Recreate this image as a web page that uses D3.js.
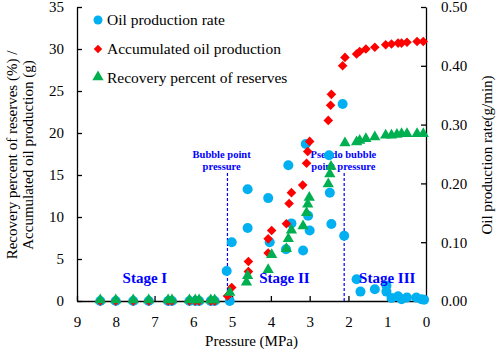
<!DOCTYPE html>
<html>
<head>
<meta charset="utf-8">
<script src="https://cdn.jsdelivr.net/npm/d3@7.9.0/dist/d3.min.js"></script>
<style>
  body { margin: 0; background: #fff; }
</style>
</head>
<body>
<svg id="chart" width="498" height="353"></svg>
<script>
// pressures (MPa) and values
const stageIPressure = [8.4, 8.0, 7.55, 7.15, 6.65, 6.55, 6.1, 5.95, 5.85, 5.55, 5.45];

const ratePressure = [...stageIPressure, 5.06, 5.14, 5.01, 4.60, 4.60, 4.07, 4.03, 3.61, 3.55, 3.47,
  3.17, 3.10, 3.04, 3.00, 2.50, 2.48, 2.44, 2.15, 2.11, 1.79, 1.69, 1.32, 1.02, 1.02,
  0.89, 0.72, 0.63, 0.49, 0.25, 0.12, 0.05];
const rateValue = [...stageIPressure.map(() => 0), 0, 0.051, 0.10, 0.19, 0.124, 0.175, 0.10, 0.088, 0.231, 0.132,
  0.086, 0.267, 0.145, 0.12, 0.248, 0.184, 0.131, 0.335, 0.111, 0.037, 0.016, 0.020, 0.026, 0.016,
  0.005, 0.008, 0.003, 0.006, 0.006, 0.003, 0.002];

const accPressure = [...stageIPressure, 5.12, 5.01, 4.58, 4.58, 4.07, 4.07, 3.98, 3.60, 3.53, 3.47,
  3.18, 3.08, 3.05, 3.00, 2.52, 2.46, 2.44, 2.15, 2.09, 1.79, 1.71, 1.55, 1.32, 1.04,
  0.89, 0.72, 0.63, 0.49, 0.23, 0.07];
const accValue = [...stageIPressure.map(() => 0), 0.6, 1.6, 3.5, 4.7, 5.7, 7.4, 8.4, 9.2, 11.6, 12.9,
  13.8, 16.4, 17.8, 19.0, 21.5, 23.3, 24.6, 28.0, 29.0, 29.4, 29.7, 30.0, 30.2, 30.5,
  30.6, 30.7, 30.7, 30.8, 30.9, 30.9];

const recPressure = [...stageIPressure, 5.06, 4.63, 4.60, 4.07, 3.98, 3.60, 3.55, 3.47, 3.17, 3.08,
  3.05, 3.01, 2.52, 2.48, 2.45, 2.09, 1.79, 1.71, 1.55, 1.32, 1.04, 0.89, 0.75, 0.63,
  0.49, 0.23, 0.07];
const recValue = [...stageIPressure.map(() => 0), 0.9, 2.1, 2.9, 3.6, 5.4, 6.1, 7.3, 8.3, 8.8, 10.4,
  11.4, 12.2, 13.8, 15.0, 15.9, 18.7, 18.8, 19.0, 19.2, 19.4, 19.6, 19.6, 19.7, 19.8,
  19.8, 19.8, 19.8];

const xTicks = [9, 8, 7, 6, 5, 4, 3, 2, 1, 0];
const leftTicks = [0, 5, 10, 15, 20, 25, 30, 35];
const rightTicks = [0, 0.1, 0.2, 0.3, 0.4, 0.5];
const guideLines = [
  { p: 5.12, label: ["Bubble point", "pressure"], lx: 5.27 },
  { p: 2.11, label: ["Pseudo bubble", "point pressure"], lx: 2.13 }
];
const stages = [
  { name: "Stage I", p: 7.25 },
  { name: "Stage II", p: 3.65 },
  { name: "Stage III", p: 1.0 }
];
const legendNames = ["Oil production rate", "Accumulated oil production", "Recovery percent of reserves"];

const blue = "#00B0F0", red = "#FF0000", green = "#00B050", labelBlue = "#0000FF";
const serif = "'Liberation Serif', 'DejaVu Serif', 'Times New Roman', serif";

const svg = d3.select("#chart");
const plotLeft = 77, plotRight = 426, plotTop = 7, plotBottom = 301;

const x = d3.scaleLinear().domain([9, 0]).range([plotLeft, plotRight]);
const yL = d3.scaleLinear().domain([0, 35]).range([plotBottom, plotTop]);
const yR = d3.scaleLinear().domain([0, 0.5]).range([plotBottom, plotTop]);

// axes
const xAxis = svg.append("g")
  .attr("transform", `translate(0,${plotBottom})`)
  .call(d3.axisBottom(x).tickValues(xTicks).tickFormat(d3.format("d"))
    .tickSizeInner(-5).tickSizeOuter(0).tickPadding(15));
const yAxisL = svg.append("g")
  .attr("transform", `translate(${plotLeft},0)`)
  .call(d3.axisLeft(yL).tickValues(leftTicks).tickSizeInner(-5).tickSizeOuter(0).tickPadding(13));
const yAxisR = svg.append("g")
  .attr("transform", `translate(${plotRight},0)`)
  .call(d3.axisRight(yR).tickValues(rightTicks).tickFormat(d3.format(".2f"))
    .tickSizeInner(-5).tickSizeOuter(0).tickPadding(15));

[xAxis, yAxisL, yAxisR].forEach(a => {
  a.attr("font-family", serif).attr("font-size", 15);
  a.selectAll("path, line").attr("stroke", "#000").attr("stroke-width", 1.3);
  a.selectAll("text").attr("fill", "#000");
});

// axis titles
svg.append("text")
  .attr("x", (plotLeft + plotRight) / 2)
  .attr("y", 346)
  .attr("text-anchor", "middle")
  .attr("font-family", serif)
  .attr("font-size", 15)
  .text("Pressure (MPa)");

const lt = svg.append("text")
  .attr("transform", "translate(0,155) rotate(-90)")
  .attr("text-anchor", "middle")
  .attr("font-family", serif)
  .attr("font-size", 15);
lt.append("tspan").attr("x", 0).attr("y", 17).text("Recovery percent of reserves (%) /");
lt.append("tspan").attr("x", 0).attr("y", 33).text("Accumulated  oil production (g)");

svg.append("text")
  .attr("transform", "translate(492,155) rotate(-90)")
  .attr("text-anchor", "middle")
  .attr("font-family", serif)
  .attr("font-size", 15)
  .text("Oil production rate(g/min)");

// dashed guide lines
guideLines.forEach(g => {
  svg.append("line")
    .attr("x1", x(g.p)).attr("x2", x(g.p))
    .attr("y1", 173).attr("y2", plotBottom)
    .attr("stroke", labelBlue).attr("stroke-width", 1.2)
    .attr("stroke-dasharray", "3,2");
  const t = svg.append("text")
    .attr("text-anchor", "middle")
    .attr("fill", labelBlue)
    .attr("font-family", serif)
    .attr("font-size", 10.5)
    .attr("font-weight", "bold");
  g.label.forEach((s, i) => {
    t.append("tspan").attr("x", x(g.lx)).attr("y", 158 + i * 12).text(s);
  });
});

// markers
const diamond = d3.symbol().type(d3.symbolSquare).size(46);
const triangle = d3.symbol().type(d3.symbolTriangle).size(55);

svg.append("g").selectAll("circle")
  .data(d3.zip(ratePressure, rateValue))
  .join("circle")
  .attr("cx", d => x(d[0]))
  .attr("cy", d => yR(d[1]))
  .attr("r", 5)
  .attr("fill", blue);

svg.append("g").selectAll("path")
  .data(d3.zip(accPressure, accValue))
  .join("path")
  .attr("d", diamond)
  .attr("transform", d => `translate(${x(d[0])},${yL(d[1])}) rotate(45)`)
  .attr("fill", red);

svg.append("g").selectAll("path")
  .data(d3.zip(recPressure, recValue))
  .join("path")
  .attr("d", triangle)
  .attr("transform", d => `translate(${x(d[0])},${yL(d[1]) - 1})`)
  .attr("fill", green);

// stage labels
stages.forEach(s => {
  svg.append("text")
    .attr("x", x(s.p))
    .attr("y", 283)
    .attr("text-anchor", "middle")
    .attr("fill", labelBlue)
    .attr("font-family", serif)
    .attr("font-size", 15)
    .attr("font-weight", "bold")
    .text(s.name);
});

// legend
const lg = svg.append("g");
legendNames.forEach((name, i) => {
  const ly = 20 + i * 29;
  if (i === 0) {
    lg.append("circle").attr("cx", 98).attr("cy", ly).attr("r", 4.5).attr("fill", blue);
  } else if (i === 1) {
    lg.append("path").attr("d", d3.symbol().type(d3.symbolSquare).size(36))
      .attr("transform", `translate(98,${ly}) rotate(45)`).attr("fill", red);
  } else {
    lg.append("path").attr("d", triangle).attr("transform", `translate(98,${ly - 1})`).attr("fill", green);
  }
  lg.append("text")
    .attr("x", 107)
    .attr("y", ly + 5)
    .attr("font-family", serif)
    .attr("font-size", 15.5)
    .text(name);
});
</script>
</body>
</html>
